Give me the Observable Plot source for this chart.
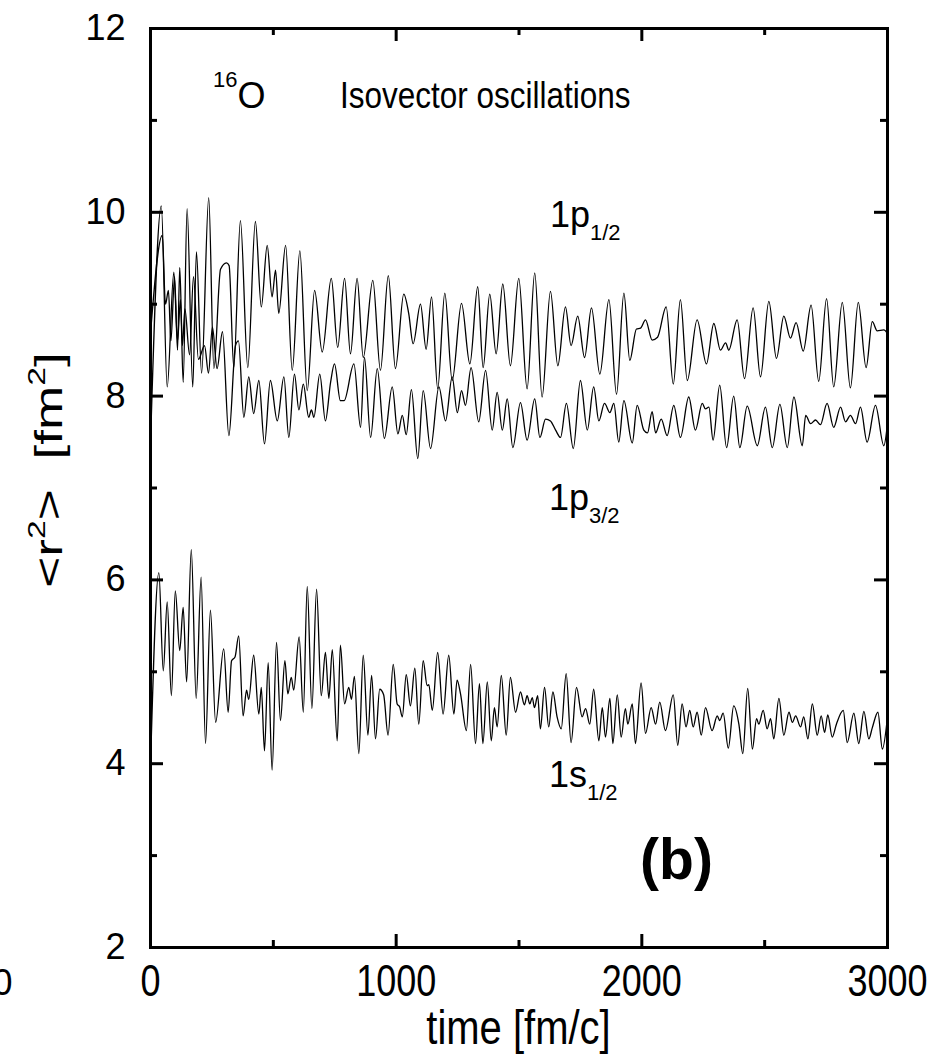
<!DOCTYPE html>
<html><head><meta charset="utf-8">
<script src="https://cdn.jsdelivr.net/npm/d3@7"></script>
<script src="https://cdn.jsdelivr.net/npm/@observablehq/plot@0.6"></script>
<style>
html,body{margin:0;padding:0;background:#fff;}
#chart{position:relative;width:937px;height:1060px;overflow:hidden;}
svg{display:block}
</style>
</head><body><div id="chart"></div>
<script>
const FONT = "'Liberation Sans', Arial, Helvetica, sans-serif";

// ---- 1p1/2 (upper curve): time [fm/c] and <r^2> [fm^2] at extrema
const t1p12 = [0,44,68,95,110,122,133,149,172,187,208,237,258,285,309,320,339,366,396,427,451,475,495,509,522,550,577,608,638,668,699,736,762,790,814,841,866,905,936,968,997,1031,1051,1069,1099,1122,1144,1169,1198,1228,1266,1300,1332,1354,1381,1407,1434,1465,1499,1533,1564,1594,1628,1658,1689,1712,1739,1767,1795,1829,1866,1897,1927,1951,1978,1995,2015,2042,2064,2099,2128,2157,2185,2225,2263,2293,2320,2341,2354,2388,2418,2453,2483,2517,2548,2578,2605,2628,2657,2689,2720,2752,2781,2816,2849,2881,2913,2938,2958,2985,3000];
const v1p12 = [7.48,10.07,8.10,9.35,8.60,9.05,8.15,10.04,8.10,9.57,8.25,10.16,8.30,9.38,9.45,9.42,8.31,9.91,8.31,9.90,8.97,9.64,9.08,9.37,8.90,9.64,8.28,9.58,8.06,9.15,8.48,9.28,8.53,9.28,8.46,9.28,8.42,9.26,8.28,9.31,8.30,9.11,8.90,8.57,9.00,8.51,9.08,8.08,9.12,8.17,9.01,8.35,9.19,8.31,9.11,8.46,9.22,8.33,9.28,8.08,9.34,7.99,9.14,8.33,8.97,8.55,8.87,8.42,8.96,8.24,9.05,8.02,9.12,8.39,8.73,8.74,8.83,8.61,8.64,8.97,8.13,9.05,8.17,8.83,8.35,8.79,8.50,8.58,8.50,8.83,8.19,8.96,8.21,9.03,8.41,8.87,8.63,8.80,8.49,8.99,8.16,9.06,8.10,9.02,8.09,9.02,8.31,8.81,8.71,8.72,8.68];

// ---- 1p3/2 (middle curve)
const t1p32 = [0,48,61,73,83,98,110,119,130,140,159,175,195,220,236,252,271,293,319,346,358,380,400,420,441,464,488,516,543,563,586,604,622,644,655,665,689,712,733,749,773,788,828,855,871,896,923,952,984,1007,1025,1041,1062,1088,1110,1140,1174,1201,1228,1249,1266,1282,1305,1336,1364,1391,1411,1432,1452,1475,1506,1533,1564,1585,1608,1628,1649,1669,1693,1721,1750,1778,1804,1825,1848,1870,1886,1906,1927,1961,1981,2008,2023,2042,2056,2079,2103,2130,2157,2191,2218,2246,2259,2273,2290,2317,2345,2374,2399,2429,2470,2503,2531,2562,2592,2619,2653,2667,2687,2707,2727,2754,2781,2809,2829,2849,2870,2890,2917,2951,2985,3000];
const v1p32 = [8.68,9.75,9.00,9.15,8.60,9.30,8.50,9.40,8.55,8.95,8.45,9.30,8.40,8.55,8.25,8.75,8.30,8.70,7.57,8.55,8.60,7.77,8.21,7.81,8.17,7.48,8.17,7.73,8.21,7.55,8.24,7.85,8.13,7.77,7.85,7.77,8.24,7.73,8.15,8.35,7.95,7.95,8.35,7.66,8.42,7.55,8.30,7.54,8.10,7.59,7.79,7.58,8.07,7.32,8.06,7.43,8.10,7.73,8.21,7.82,8.06,7.90,8.31,7.72,8.28,7.63,8.04,7.63,7.97,7.44,7.93,7.52,7.97,7.55,7.75,7.73,7.63,7.55,7.92,7.43,8.17,7.63,8.10,7.73,7.92,7.82,7.92,7.50,7.95,7.49,7.90,7.63,7.60,7.83,7.60,7.75,7.57,7.90,7.55,7.99,7.63,7.92,7.86,7.88,7.52,8.12,7.44,8.00,7.44,7.89,7.46,7.88,7.44,7.91,7.44,7.99,7.46,7.79,7.70,7.74,7.69,7.92,7.66,7.88,7.72,7.79,7.70,7.88,7.50,7.90,7.46,7.70];

// ---- 1s1/2 (lower curve)
const t1s12 = [0,34,52,68,85,101,119,133,147,166,186,206,224,244,265,298,316,330,344,359,377,391,400,420,441,451,464,479,495,513,529,547,559,573,583,605,622,638,657,676,695,712,726,740,760,773,790,807,818,830,848,866,885,900,916,933,949,967,988,1004,1014,1025,1041,1058,1076,1092,1110,1126,1133,1147,1169,1191,1214,1235,1248,1262,1286,1303,1323,1339,1353,1371,1387,1400,1411,1428,1448,1465,1486,1506,1522,1533,1544,1554,1563,1576,1587,1604,1621,1638,1655,1672,1692,1712,1734,1757,1771,1788,1804,1825,1839,1852,1870,1882,1900,1916,1933,1943,1961,1974,1997,2015,2038,2056,2073,2096,2128,2146,2164,2180,2195,2209,2225,2242,2259,2286,2307,2317,2331,2352,2374,2395,2411,2431,2450,2467,2476,2494,2510,2524,2537,2558,2578,2599,2613,2626,2646,2659,2676,2694,2714,2730,2744,2757,2775,2792,2820,2836,2863,2883,2904,2924,2938,2961,2979,3000];
const v1s12 = [3.98,6.08,5.01,5.76,4.74,5.88,5.23,5.70,4.89,6.33,4.71,6.03,4.22,5.67,4.45,5.25,4.56,5.12,5.16,5.39,4.52,4.80,4.70,5.18,4.54,4.83,4.14,5.10,3.93,5.32,4.47,5.12,4.76,4.94,4.80,5.38,4.56,5.93,4.60,5.90,4.74,5.21,4.71,5.24,4.25,5.29,4.65,4.83,4.70,4.95,4.11,5.18,4.31,4.96,4.27,4.81,4.75,4.31,5.08,4.65,4.62,4.51,4.97,4.63,5.04,4.43,5.12,4.85,4.86,4.58,5.21,4.54,5.18,4.54,4.91,4.76,4.36,5.08,4.22,4.87,4.22,4.89,4.25,4.61,4.40,4.96,4.31,4.94,4.56,4.78,4.64,4.74,4.65,4.72,4.61,4.74,4.38,4.83,4.40,4.78,4.51,4.38,4.98,4.23,4.83,4.51,4.60,4.43,4.81,4.25,4.61,4.29,4.71,4.22,4.75,4.29,4.60,4.43,4.65,4.22,4.88,4.33,4.61,4.43,4.67,4.36,4.75,4.20,4.65,4.40,4.58,4.40,4.56,4.31,4.61,4.36,4.52,4.47,4.55,4.17,4.63,4.43,4.11,4.82,4.16,4.49,4.43,4.58,4.38,4.49,4.27,4.71,4.31,4.56,4.45,4.52,4.40,4.51,4.27,4.65,4.31,4.52,4.34,4.53,4.29,4.43,4.58,4.23,4.55,4.22,4.57,4.27,4.39,4.56,4.16,4.51];

// ---- axes
const xMajor = [0, 1000, 2000, 3000];
const xMinor = [500, 1500, 2500];
const yMajor = [2, 4, 6, 8, 10, 12];
const yMinor = [3, 5, 7, 9, 11];
const xTitle = "time [fm/c]";

const rows = (ts, vs) => ts.map((t, i) => ({t, v: vs[i]}));

const W = 937, H = 1060, mL = 150, mR = 50, mT = 28, mB = 113;
const pw = W - mL - mR, ph = H - mT - mB;
const lineOpts = {x: "t", y: "v", curve: "monotone-x", stroke: "#000", strokeWidth: 1.3};

const plot = Plot.plot({
  width: W, height: H,
  marginLeft: mL, marginRight: mR, marginTop: mT, marginBottom: mB,
  style: {fontFamily: FONT, fontSize: "36px", color: "#000", background: "#fff"},
  x: {domain: [0, 3000]},
  y: {domain: [2, 12]},
  marks: [
    Plot.line(rows(t1p12, v1p12), lineOpts),
    Plot.line(rows(t1p32, v1p32), lineOpts),
    Plot.line(rows(t1s12, v1s12), lineOpts),
    // inward ticks, left & right
    Plot.tickY(yMajor, {y: d => d, insetRight: pw - 13, strokeWidth: 3}),
    Plot.tickY(yMajor, {y: d => d, insetLeft: pw - 13, strokeWidth: 3}),
    Plot.tickY(yMinor, {y: d => d, insetRight: pw - 7, strokeWidth: 3}),
    Plot.tickY(yMinor, {y: d => d, insetLeft: pw - 7, strokeWidth: 3}),
    // inward ticks, bottom & top
    Plot.tickX(xMajor, {x: d => d, insetTop: ph - 13, strokeWidth: 3}),
    Plot.tickX(xMajor, {x: d => d, insetBottom: ph - 13, strokeWidth: 3}),
    Plot.tickX(xMinor, {x: d => d, insetTop: ph - 7, strokeWidth: 3}),
    Plot.tickX(xMinor, {x: d => d, insetBottom: ph - 7, strokeWidth: 3}),
    Plot.frame({strokeWidth: 3}),
    Plot.axisX({ticks: xMajor, tickSize: 0, tickPadding: 20, label: null, fontSize: 36, tickFormat: d => String(d)}),
    Plot.axisY({ticks: yMajor, tickSize: 0, tickPadding: 25, label: null, fontSize: 36, tickFormat: d => String(d)}),
    // fragment of the neighbouring panel's tick label
    Plot.text(["3000"], {x: -562, y: 2, dy: 36, textAnchor: "end", text: d => d, fontSize: 36})
  ]
});
document.getElementById("chart").appendChild(plot);

// stretch the x tick labels vertically (tall, narrow glyphs as in the source)
d3.select(plot).selectAll("g[aria-label='x-axis tick label'] text").each(function () {
  const t = d3.select(this);
  const tr = t.attr("transform") || "";
  t.attr("transform", tr + " translate(0,-3) scale(1,1.25)");
});

const sx = plot.scale("x"), sy = plot.scale("y");
const svg = d3.select(plot);

// x-axis title (slightly tall glyphs)
svg.append("text")
  .attr("transform", `translate(${(mL + W - mR) / 2},1044) scale(1,1.2)`)
  .attr("text-anchor", "middle").attr("font-family", FONT).attr("font-size", 40).attr("fill", "#000")
  .text(xTitle);

// ---- rich-text annotations (super/subscripts), positioned through the plot's scales
const annotations = [
  {t: 256, v: 11.13, parts: [["16", 22, -21], ["O", 36, 21]]},
  {t: 773, v: 11.13, parts: [["Isovector oscillations", 31.5, 0]], stretch: 1.2},
  {t: 1628, v: 9.83, parts: [["1p", 36, 0], ["1/2", 22, 13]]},
  {t: 1624, v: 6.76, parts: [["1p", 36, 0], ["3/2", 22, 13]]},
  {t: 1624, v: 3.74, parts: [["1s", 36, 0], ["1/2", 22, 13]]},
  {t: 1995, v: 2.74, parts: [["(b)", 57, 0]], bold: true}
];
for (const a of annotations) {
  const txt = svg.append("text")
    .attr("transform", `translate(${sx.apply(a.t)},${sy.apply(a.v)}) scale(1,${a.stretch || 1})`)
    .attr("text-anchor", "start")
    .attr("font-family", FONT).attr("fill", "#000")
    .attr("font-weight", a.bold ? "bold" : "normal");
  for (const [s, size, dy] of a.parts) {
    txt.append("tspan").attr("font-size", size).attr("dy", dy).text(s);
  }
}
// y-axis title, rotated, elongated along its length
const yt = svg.append("text")
  .attr("transform", `translate(62,470) scale(1,1.4) rotate(-90)`)
  .attr("text-anchor", "middle").attr("font-family", FONT).attr("font-size", 38).attr("fill", "#000");
yt.append("tspan").text("<r");
yt.append("tspan").attr("font-size", 24).attr("dy", -17).text("2");
yt.append("tspan").attr("dy", 17).text(">  [fm");
yt.append("tspan").attr("font-size", 24).attr("dy", -17).text("2");
yt.append("tspan").attr("dy", 17).text("]");
</script>
</body></html>
